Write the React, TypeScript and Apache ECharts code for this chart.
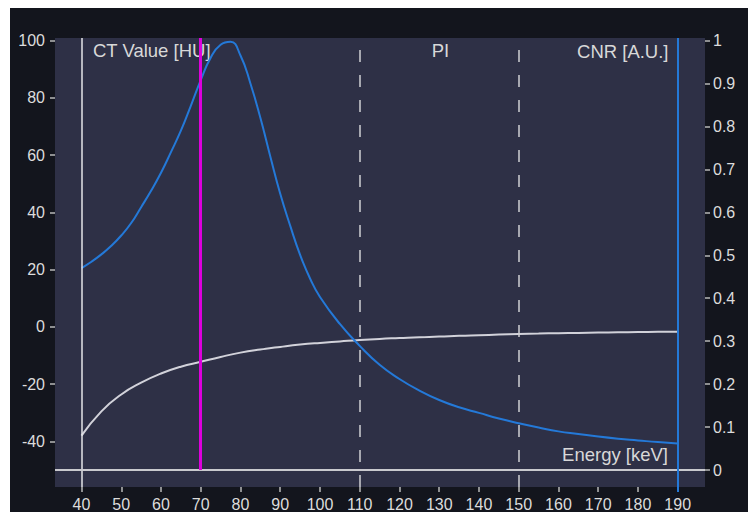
import React, { useEffect, useRef } from "react";
import * as echarts from "echarts";

// ---- data ----
const cnrEnergies = [40, 42.5, 45, 47.5, 50, 52.5, 55, 57.5, 60, 62.5, 65, 67.5, 70, 72.5, 75, 77.5, 80, 82.5, 85, 87.5, 90, 92.5, 95, 97.5, 100, 105, 110, 115, 120, 125, 130, 135, 140, 145, 150, 155, 160, 165, 170, 175, 180, 185, 190];
const cnrValues = [0.47, 0.485, 0.502, 0.522, 0.546, 0.575, 0.612, 0.65, 0.692, 0.74, 0.79, 0.848, 0.908, 0.96, 0.99, 0.997, 0.965, 0.9, 0.82, 0.73, 0.643, 0.569, 0.501, 0.446, 0.403, 0.34, 0.289, 0.245, 0.212, 0.185, 0.163, 0.146, 0.133, 0.12, 0.109, 0.099, 0.09, 0.084, 0.078, 0.073, 0.069, 0.065, 0.062];

const ctEnergies = [40, 45, 50, 55, 60, 65, 70, 75, 80, 85, 90, 95, 100, 105, 110, 115, 120, 125, 130, 135, 140, 145, 150, 155, 160, 165, 170, 175, 180, 185, 190];
const ctValues = [-38.0, -29.5, -23.6, -19.5, -16.3, -13.9, -12.2, -10.5, -9.0, -7.9, -7.0, -6.2, -5.6, -5.1, -4.6, -4.2, -3.9, -3.6, -3.4, -3.1, -2.9, -2.7, -2.5, -2.35, -2.2, -2.1, -2.0, -1.9, -1.8, -1.75, -1.7];

const xTicks = [40, 50, 60, 70, 80, 90, 100, 110, 120, 130, 140, 150, 160, 170, 180, 190];
const leftTicks = [-40, -20, 0, 20, 40, 60, 80, 100];
const rightTicks = [0, 0.1, 0.2, 0.3, 0.4, 0.5, 0.6, 0.7, 0.8, 0.9, 1];

const markerEnergy = 70;
const piLines = [110, 150];
const rangeStart = 40;
const rangeEnd = 190;
const baseline = 0; // on the CNR axis

// axis extents (plot area extends slightly beyond data range)
const X_MIN = 33.33;
const X_MAX = 196.87;
const L_MIN = -55.92;
const L_MAX = 100.87;
const R_MIN = -0.0395;
const R_MAX = 1.0058;

const FONT = "'Liberation Sans', Arial, sans-serif";
const LABEL = "#dcdcdc";
const TICK = "#b8b8b8";
const BLUE = "#2479d8";

export default function App() {
  const ref = useRef<HTMLDivElement>(null);
  useEffect(() => {
    if (!ref.current) return;
    const chart = echarts.init(ref.current, undefined, { renderer: "svg" });
    const xCommon = {
      type: "value",
      min: X_MIN,
      max: X_MAX,
      position: "bottom",
      splitLine: { show: false },
    };
    const option: any = {
      animation: false,
      backgroundColor: "#13151d",
      grid: {
        left: 45,
        right: 43,
        top: 30,
        bottom: 24,
        show: true,
        backgroundColor: "#2e3046",
        borderWidth: 0,
      },
      xAxis: [
        {
          ...xCommon,
          axisLine: { show: false, onZero: false },
          axisTick: { show: true, length: 5, customValues: xTicks.filter((v) => v !== rangeEnd), lineStyle: { color: TICK, width: 1.5 } },
          axisLabel: { customValues: xTicks, color: LABEL, fontSize: 16, fontFamily: FONT, margin: 9 },
        },
        {
          ...xCommon,
          axisLine: { show: false, onZero: false },
          axisTick: { show: true, length: 5, customValues: [rangeEnd], lineStyle: { color: BLUE, width: 2 } },
          axisLabel: { show: false },
        },
      ],
      yAxis: [
        {
          type: "value",
          min: L_MIN,
          max: L_MAX,
          position: "left",
          axisLine: { show: false, onZero: false },
          splitLine: { show: false },
          axisTick: { show: true, length: 5, customValues: leftTicks, lineStyle: { color: TICK, width: 1.5 } },
          axisLabel: { customValues: leftTicks, color: LABEL, fontSize: 16, fontFamily: FONT, margin: 10 },
        },
        {
          type: "value",
          min: R_MIN,
          max: R_MAX,
          position: "right",
          axisLine: { show: false, onZero: false },
          splitLine: { show: false },
          axisTick: { show: true, length: 5, customValues: rightTicks, lineStyle: { color: TICK, width: 1.5 } },
          axisLabel: {
            customValues: rightTicks,
            color: LABEL,
            fontSize: 16,
            fontFamily: FONT,
            margin: 8,
            formatter: (v: number) => String(Math.round(v * 10) / 10),
          },
        },
      ],
      series: [
        {
          name: "CT Value [HU]",
          type: "line",
          xAxisIndex: 0,
          yAxisIndex: 0,
          data: ctEnergies.map((e, i) => [e, ctValues[i]]),
          showSymbol: false,
          smooth: 0.5,
          lineStyle: { color: "#d2d2da", width: 2 },
          z: 3,
        },
        {
          name: "CNR [A.U.]",
          type: "line",
          xAxisIndex: 0,
          yAxisIndex: 1,
          data: cnrEnergies.map((e, i) => [e, cnrValues[i]]),
          showSymbol: false,
          smooth: 0.5,
          lineStyle: { color: BLUE, width: 2 },
          z: 4,
          markLine: {
            silent: true,
            symbol: ["none", "none"],
            label: { show: false },
            animation: false,
            data: [
              { xAxis: rangeStart, lineStyle: { color: "#e4e4e8", width: 1.5, type: "solid" } },
              ...piLines.map((p) => ({ xAxis: p, lineStyle: { color: "#cfcfd4", width: 1.5, type: [12, 13] } })),
              { yAxis: baseline, lineStyle: { color: "#c9c9ce", width: 2, type: "solid" } },
              { xAxis: rangeEnd, lineStyle: { color: BLUE, width: 2, type: "solid" } },
              [
                { coord: [markerEnergy, baseline], lineStyle: { color: "#dd00dd", width: 3, type: "solid" } },
                { coord: [markerEnergy, R_MAX] },
              ],
            ],
          },
        },
      ],
      graphic: [
        { type: "text", x: 83, y: 42.5, style: { text: "CT Value [HU]", fill: "#d8d8d8", font: `18.5px ${FONT}`, align: "left", verticalAlign: "middle" } },
        { type: "text", x: 430.5, y: 42.5, style: { text: "PI", fill: "#d8d8d8", font: `18.5px ${FONT}`, align: "center", verticalAlign: "middle" } },
        { type: "text", x: 658.5, y: 43, style: { text: "CNR [A.U.]", fill: "#d8d8d8", font: `18.5px ${FONT}`, align: "right", verticalAlign: "middle" } },
        { type: "text", x: 658, y: 446, style: { text: "Energy [keV]", fill: "#d8d8d8", font: `18.5px ${FONT}`, align: "right", verticalAlign: "middle" } },
      ],
    };
    chart.setOption(option);
    return () => chart.dispose();
  }, []);
  return (
    <div
      ref={ref}
      style={{ position: "fixed", left: 10, top: 8, width: 738, height: 504 }}
    />
  );
}
